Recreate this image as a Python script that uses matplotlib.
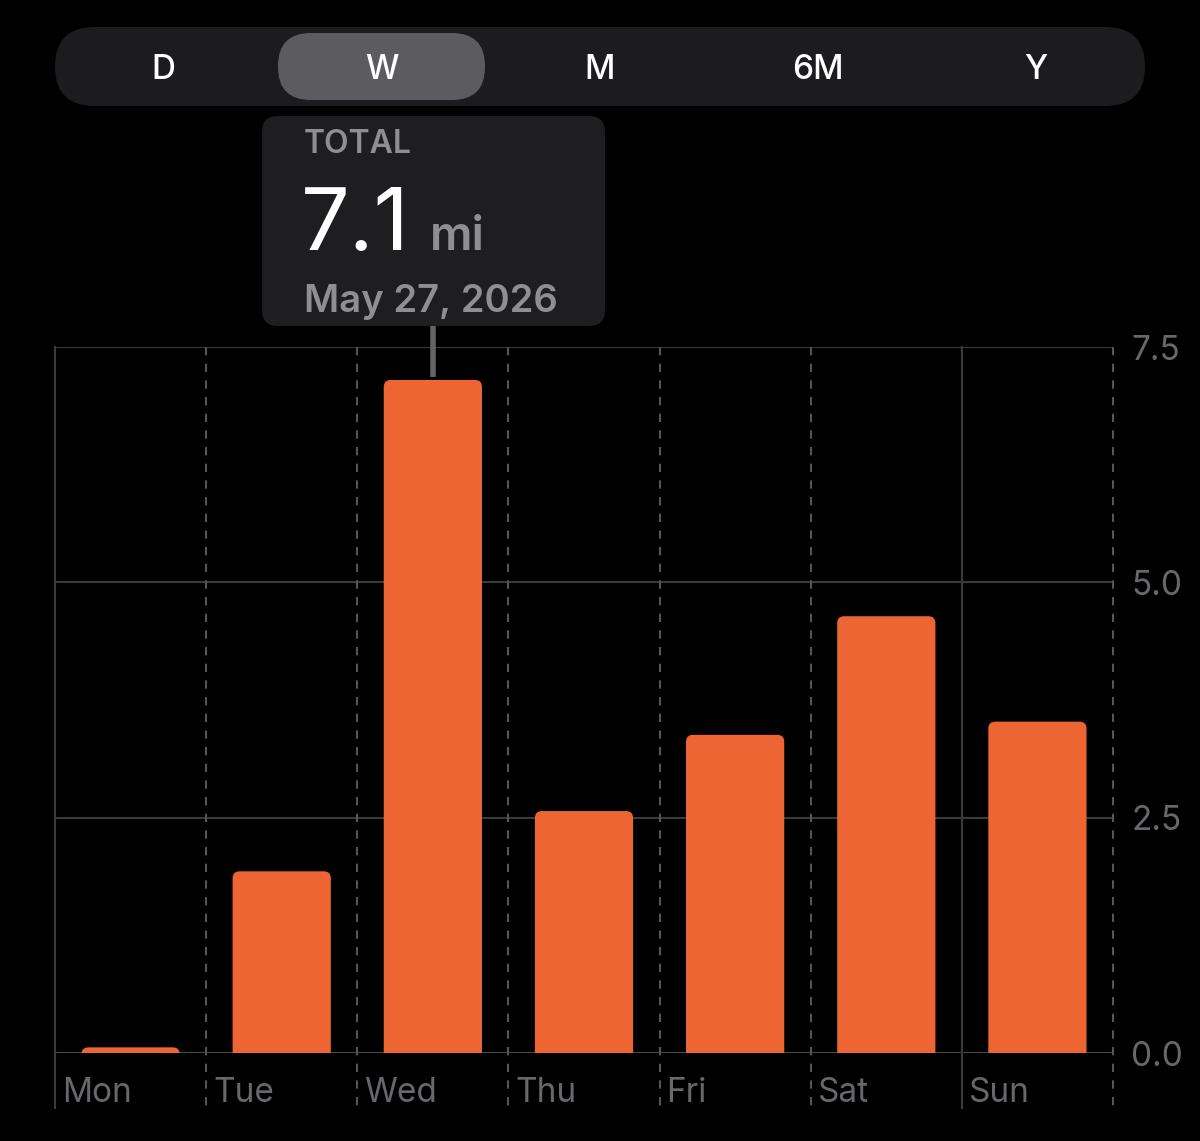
import matplotlib
matplotlib.use("Agg")
import matplotlib.pyplot as plt
from matplotlib.patches import FancyBboxPatch
import matplotlib.transforms as mtransforms

plt.rcParams['font.family'] = ['Inter', 'DejaVu Sans']

# ---- data ----
days = ["Mon", "Tue", "Wed", "Thu", "Fri", "Sat", "Sun"]
distance_mi = [0.06, 1.93, 7.15, 2.57, 3.38, 4.64, 3.52]
y_ticks = [0.0, 2.5, 5.0, 7.5]
y_tick_labels = ["0.0", "2.5", "5.0", "7.5"]
segments = ["D", "W", "M", "6M", "Y"]
selected_segment = "W"
tooltip_title = "TOTAL"
tooltip_value = "7.1"
tooltip_unit = "mi"
tooltip_date = "May 27, 2026"
highlight_index = 2

BAR = "#EC6533"
GRID = "#3a3a3c"
DASH = "#55555a"
LABEL = "#68686c"
PANEL = "#1c1c1e"
PILL = "#5c5c60"

W, H = 1200, 1141
fig = plt.figure(figsize=(W / 100, H / 100), dpi=100, facecolor="black")

# ---- chart axes ----
L, R, T, B = 55, 1113, 347, 1053
ax = fig.add_axes([L / W, 1 - B / H, (R - L) / W, (B - T) / H])
ax.set_facecolor("black")
ax.set_xlim(-0.5, len(days) - 0.5)
ax.set_ylim(0, 7.5)
for s in ax.spines.values():
    s.set_visible(False)

# horizontal gridlines
for yv in y_ticks:
    ax.axhline(yv, color=GRID if yv > 0 else "#48484a", lw=1.5, zorder=1)

# vertical separators (extend below axis)
xa = ax.get_xaxis_transform()
for i in range(len(days) + 1):
    xv = i - 0.5
    solid = (i == 0) or (i == 6)
    ax.plot([xv, xv], [1.0, -0.078], transform=xa, clip_on=False,
            color=GRID if solid else DASH, lw=1.5,
            ls="-" if solid else (0, (4, 4)), zorder=1)

# bars with rounded tops
bars = ax.bar(range(len(days)), distance_mi, width=0.65, color=BAR, zorder=3)
px_x = (R - L) / len(days)
px_y = (B - T) / 7.5
rad = 7.0
for rect in bars:
    x0, y0 = rect.get_x(), rect.get_y()
    w, h = rect.get_width(), rect.get_height()
    rect.set_visible(False)
    p = FancyBboxPatch((x0 + rad / px_x, y0 - 0.3), w - 2 * rad / px_x, h + 0.3 - rad / px_y,
                       boxstyle=f"round,pad={rad / px_x},rounding_size={rad / px_x}",
                       mutation_aspect=px_x / px_y,
                       facecolor=BAR, edgecolor="none", zorder=3, clip_on=True)
    ax.add_patch(p)

# y ticks on right
ax.yaxis.tick_right()
ax.set_yticks(y_ticks)
ax.set_yticklabels(y_tick_labels)
ax.tick_params(axis="y", length=0, pad=13, labelsize=24, labelcolor=LABEL)
ax.set_xticks([])

# day labels
for i, d in enumerate(days):
    off = mtransforms.offset_copy(xa, fig=fig, x=7, y=0, units="dots")
    ax.text(i - 0.5, -49 / (B - T), d, transform=off, ha="left", va="baseline",
            fontsize=24, color=LABEL)

# connector from tooltip to highlighted bar
ax.plot([highlight_index, highlight_index], [distance_mi[highlight_index] + 0.03, 7.5 + 21 / px_y],
        color="#636366", lw=4, clip_on=False, zorder=2, solid_capstyle="butt")

# ---- overlay UI ----
ov = fig.add_axes([0, 0, 1, 1])
ov.set_xlim(0, W)
ov.set_ylim(H, 0)
ov.axis("off")
ov.patch.set_visible(False)

# segmented control
ov.add_patch(FancyBboxPatch((55, 27), 1090, 79, boxstyle="round,pad=0,rounding_size=39.5",
                            facecolor=PANEL, edgecolor="none"))
ov.add_patch(FancyBboxPatch((278, 33), 207, 67, boxstyle="round,pad=0,rounding_size=33",
                            facecolor=PILL, edgecolor="none"))
seg_x = [163, 382, 600, 818, 1036]
for sx, sname in zip(seg_x, segments):
    ov.text(sx, 79, sname, ha="center", va="baseline", fontsize=24, color="white",
            fontweight="medium")

# tooltip
ov.add_patch(FancyBboxPatch((262, 116), 343, 210, boxstyle="round,pad=0,rounding_size=16",
                            facecolor="#1e1e20", edgecolor="none"))
ov.text(304, 153, tooltip_title, ha="left", va="baseline", fontsize=23, color="#8e8e93",
        fontweight="semibold")
ov.text(301, 250, tooltip_value, ha="left", va="baseline", fontsize=62, color="white",
        fontweight="normal")
ov.text(430, 250, tooltip_unit, ha="left", va="baseline", fontsize=34, color="#8e8e93",
        fontweight="semibold")
ov.text(304, 312, tooltip_date, ha="left", va="baseline", fontsize=27.5, color="#8e8e93",
        fontweight="semibold")

fig.savefig("out.png", dpi=100, facecolor="black")
